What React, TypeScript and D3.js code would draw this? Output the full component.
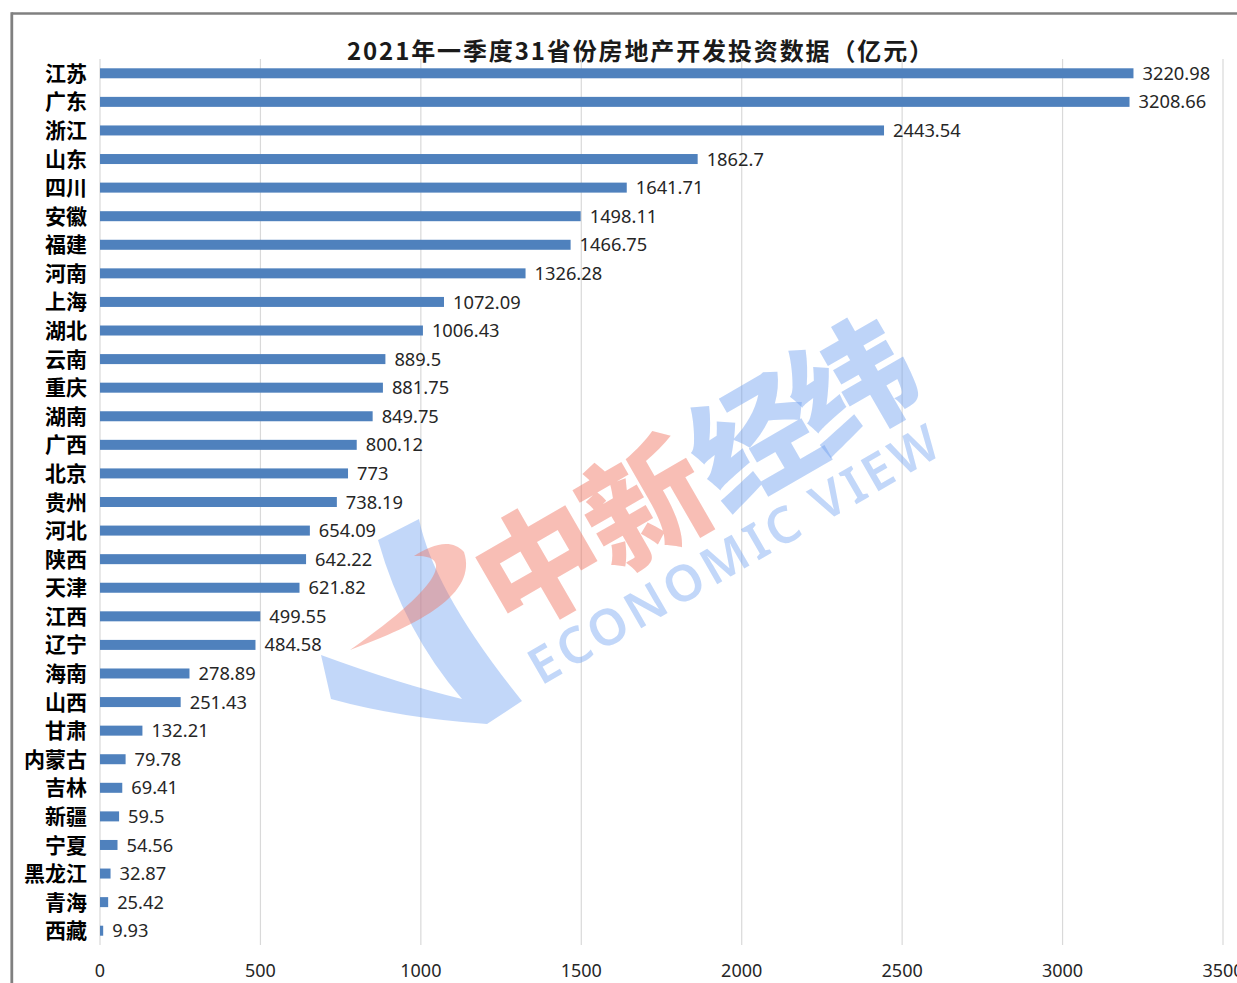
import React from "react";
import * as d3 from "d3";

const provinces = ["江苏","广东","浙江","山东","四川","安徽","福建","河南","上海","湖北","云南","重庆","湖南","广西","北京","贵州","河北","陕西","天津","江西","辽宁","海南","山西","甘肃","内蒙古","吉林","新疆","宁夏","黑龙江","青海","西藏"];
const investment = [3220.98,3208.66,2443.54,1862.7,1641.71,1498.11,1466.75,1326.28,1072.09,1006.43,889.5,881.75,849.75,800.12,773,738.19,654.09,642.22,621.82,499.55,484.58,278.89,251.43,132.21,79.78,69.41,59.5,54.56,32.87,25.42,9.93];
const xTicks = [0,500,1000,1500,2000,2500,3000,3500];
const title = "2021年一季度31省份房地产开发投资数据（亿元）";

const W = 1237, H = 983;
const plotLeft = 100, plotRight = 1223, plotTop = 59, plotBottom = 945;

export default function App() {
  const x = d3.scaleLinear().domain([0, 3500]).range([plotLeft, plotRight]);
  const y = d3.scaleBand<string>().domain(provinces).range([plotTop, plotBottom]).paddingInner(0).paddingOuter(0);
  const barH = 10;
  const cjk = '"Noto Sans CJK SC", sans-serif';
  const num = '"Noto Sans", "Open Sans", sans-serif';
  return (
    <div style={{ position: "absolute", left: 0, top: 0 }}>
      <svg width={W} height={H} style={{ display: "block", background: "#fff" }}>
        {/* frame */}
        <line x1={11.5} x2={W} y1={13.5} y2={13.5} stroke="#808080" strokeWidth={2.5} />
        <line x1={11.8} x2={11.8} y1={12.3} y2={H} stroke="#808080" strokeWidth={2.8} />
        {/* title */}
        <text x={640} y={60} textAnchor="middle" fontFamily={cjk} fontWeight={700} fontSize={24} fill="#1a1a1a" textLength={586} lengthAdjust="spacing">{title}</text>
        {/* gridlines */}
        {xTicks.map(t => (
          <line key={t} x1={x(t)} x2={x(t)} y1={plotTop} y2={plotBottom} stroke="#d9d9d9" strokeWidth={1.2} />
        ))}
        {/* bars */}
        {provinces.map((p, i) => {
          const cy = (y(p) as number) + y.bandwidth() / 2;
          return (
            <g key={p}>
              <rect x={x(0)} y={cy - barH / 2} width={x(investment[i]) - x(0)} height={barH} fill="#4f81bd" />
              <text x={x(investment[i]) + 9} y={cy} dy="0.36em" fontFamily={num} fontSize={18.3} fill="#262626">{investment[i]}</text>
              <text x={87} y={cy} dy="0.36em" textAnchor="end" fontFamily={cjk} fontWeight={700} fontSize={21} fill="#000">{p}</text>
            </g>
          );
        })}
        {/* x tick labels */}
        {xTicks.map(t => (
          <text key={t} x={x(t)} y={977} textAnchor="middle" fontFamily={num} fontSize={18} fill="#262626">{t}</text>
        ))}
        {/* watermark */}
        <g pointerEvents="none">
          <path d="M378,540 L419,519 Q434,592 522,701 L487,724 Q400,718 331,699 L321,655 Q400,684 462,699 Q404,632 378,540 Z" fill="rgb(110,160,240)" fillOpacity={0.42} />
          <path d="M350,650 C420,624 478,594 464,552 C452,538 432,544 414,556 C448,554 454,577 350,650 Z" fill="rgb(240,110,90)" fillOpacity={0.42} />
          <g transform="translate(540,566) rotate(-30)">
            <text y={0} dy="0.36em" fontFamily={cjk} fontWeight={900} fontSize={124} fill="rgb(240,110,90)" fillOpacity={0.45} textAnchor="middle">
              <tspan x={0}>中</tspan><tspan x={122}>新</tspan>
            </text>
            <text y={0} dy="0.36em" fontFamily={cjk} fontWeight={900} fontSize={124} fill="rgb(110,160,240)" fillOpacity={0.45} textAnchor="middle">
              <tspan x={248}>经</tspan><tspan x={362}>纬</tspan>
            </text>
          </g>
          <g transform="translate(541,686) rotate(-30)">
            <text x={0} y={0} fontFamily={num} fontWeight={600} fontSize={50} fill="rgb(110,160,240)" fillOpacity={0.42} textLength={465} lengthAdjust="spacing">ECONOMIC VIEW</text>
          </g>
        </g>
      </svg>
    </div>
  );
}
